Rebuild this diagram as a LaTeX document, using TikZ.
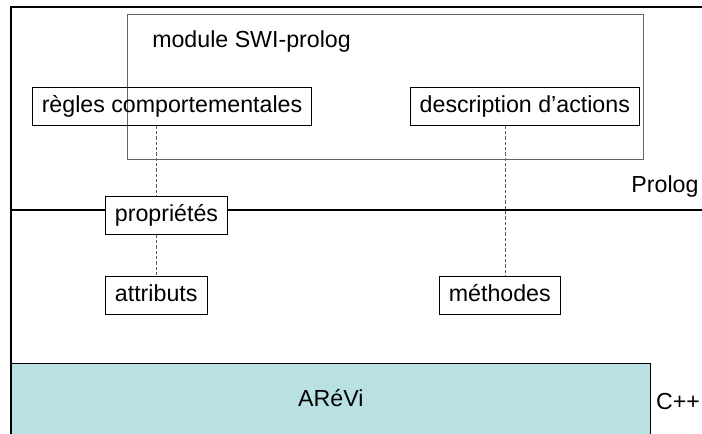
\documentclass[tikz,border=0pt]{standalone}
\usepackage{fontspec}
\setmainfont{Liberation Sans}
\definecolor{areviblue}{RGB}{185,224,226}
\definecolor{swigray}{RGB}{100,100,100}
\definecolor{linkgray}{RGB}{90,90,90}

\begin{document}
\begin{tikzpicture}[x=0.75pt,y=0.75pt,yscale=-1,xscale=1,
  every node/.style={font=\fontsize{17.4}{20}\selectfont},
  box/.style={draw, line width=0.75, inner sep=0, text height=12.5pt, text depth=3.6pt},
  txt/.style={inner sep=0},
  frame/.style={line width=1.9},
  link/.style={draw=linkgray, line width=0.75, dash pattern=on 2.5pt off 1.5pt}]
\useasboundingbox (0,0) rectangle (702,434);

%Shape: Rectangle
\node[box, fill=areviblue, minimum width=479.8pt, minimum height=55.5pt] (arevi) at (330.8,400.3) {ARéVi};

%Straight Lines
\draw[frame] (11,445) -- (11,7) -- (712,7);
\draw[frame] (11,210) -- (712,210);

%Shape: Rectangle
\node[draw=swigray, line width=0.75, inner sep=0, minimum width=386.7pt, minimum height=108.5pt] (swi) at (385.5,87) {};
% Text Node
\node[txt, anchor=west] (switxt) at (152,42) {module SWI-prolog};

%Shape: Rectangle
\node[box, minimum width=209.6pt, minimum height=28.5pt] (regles) at (172,106.3) {règles comportementales};
\node[box, minimum width=171.8pt, minimum height=28.5pt] (actions) at (524.8,106.3) {description d’actions};
\node[box, fill=white, minimum width=91.8pt, minimum height=28.7pt] (proprietes) at (166.5,215.2) {propriétés};
\node[box, minimum width=76.3pt, minimum height=28.5pt] (attributs) at (156.2,295.3) {attributs};
\node[box, minimum width=90.8pt, minimum height=28.5pt] (methodes) at (499.8,295.3) {méthodes};
\coordinate (mtop) at (505,276.3);

%Straight Lines
\draw[link] (attributs.north |- regles.south) -- (attributs.north |- proprietes.north);
\draw[link] (attributs.north |- proprietes.south) -- (attributs.north);
\draw[link] (actions.south -| mtop) -- (mtop);

% Text Node
\node[txt] (prolog) at (665,186.7) {Prolog};
% Text Node
\node[txt] (cpp) at (678,401.7) {C++};

\end{tikzpicture}
\end{document}
